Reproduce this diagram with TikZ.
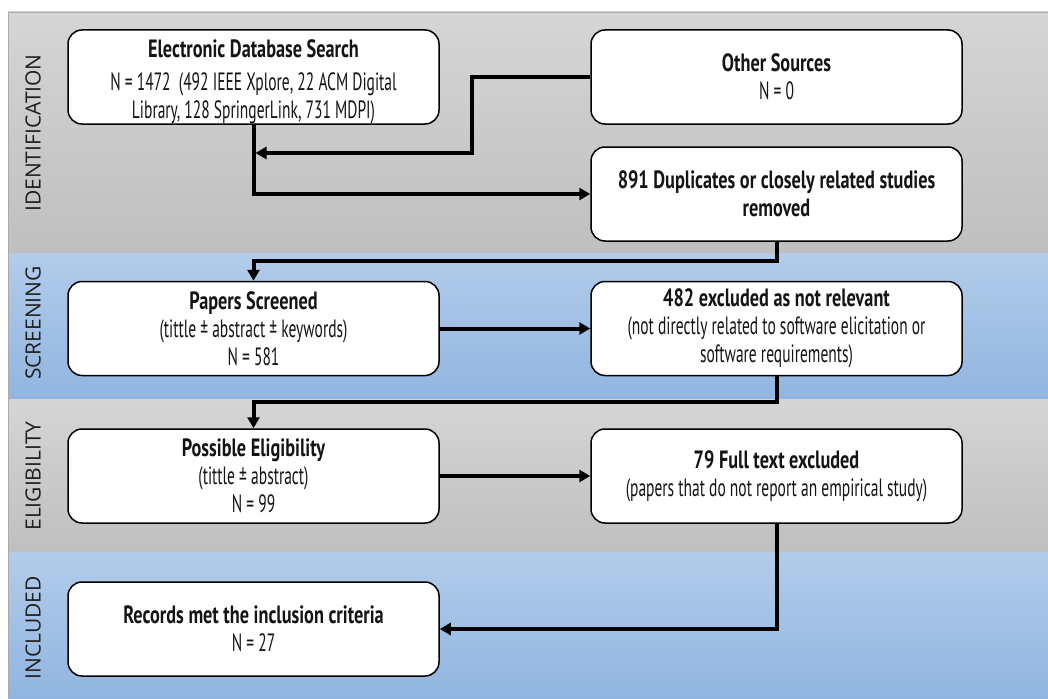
\documentclass[tikz,border=0pt]{standalone}
\usepackage{fontspec}
\setmainfont[FakeStretch=0.62, BoldFeatures={FakeStretch=0.73}]{PT Sans}
\newfontfamily\sidefont{Open Sans}
\usetikzlibrary{arrows.meta}

\definecolor{grayTop}{RGB}{213,213,213}
\definecolor{grayBot}{RGB}{191,191,191}
\definecolor{blueTop}{RGB}{178,204,234}
\definecolor{blueBot}{RGB}{145,181,224}
\definecolor{bandLine}{RGB}{170,170,170}
\definecolor{inkText}{RGB}{20,20,20}

\tikzset{
  graybandfill/.style={top color=grayTop, bottom color=grayBot},
  bluebandfill/.style={top color=blueTop, bottom color=blueBot},
  boxtext/.style={align=center, inner sep=2pt, text=inkText,
    font=\fontsize{25}{28}\selectfont},
  stagebox/.style={boxtext, draw=black, line width=1.5pt, fill=white,
    rounded corners=14pt, minimum width=371pt, minimum height=94pt},
  sidelabel/.style={rotate=90, font=\sidefont\fontsize{21}{24}\selectfont, text=black!88},
  conn/.style={line width=4pt, -{Triangle[length=11pt,width=12pt]}}
}

\begin{document}
\begin{tikzpicture}[x=1pt,y=-1pt]
\useasboundingbox (0,0) rectangle (1048,698);
\fill[white] (0,0) rectangle (1048,698);

% stage bands
\shade[graybandfill] (8,12) rectangle (1048,253);
\shade[bluebandfill] (8,253) rectangle (1048,399);
\shade[graybandfill] (8,399) rectangle (1048,552);
\shade[bluebandfill] (8,552) rectangle (1048,698);
\draw[bandLine, line width=0.8pt] (8,698) -- (8,12) -- (1048,12);

% stage names
\node[sidelabel] (lid)  at (33,133) {IDENTIFICATION};
\node[sidelabel] (lsc)  at (33,323) {SCREENING};
\node[sidelabel] (lel)  at (33,476) {ELIGIBILITY};
\node[sidelabel] (lin)  at (33,628) {INCLUDED};

% boxes
\node[stagebox] (eds) at (253.5,77) {};
\node[boxtext] (edstext) at (253.5,81.5) {\textbf{Electronic Database Search}\\[5pt]N = 1472\ \ (492 IEEE Xplore, 22 ACM Digital\\Library, 128 SpringerLink, 731 MDPI)};
\node[stagebox] (oth) at (776.5,77) {\textbf{Other Sources}\\N = 0};
\node[stagebox] (dup) at (776.5,194) {\textbf{891 Duplicates or closely related studies}\\\textbf{removed}};
\node[stagebox] (ps)  at (253.5,328.5) {\textbf{Papers Screened}\\(tittle ± abstract ± keywords)\\N = 581};
\node[stagebox] (ex1) at (776.5,328.5) {\textbf{482 excluded as not relevant}\\(not directly related to software elicitation or\\software requirements)};
\node[stagebox] (pe)  at (253.5,476) {\textbf{Possible Eligibility}\\(tittle ± abstract)\\N = 99};
\node[stagebox] (ex2) at (776.5,476) {\textbf{79 Full text excluded}\\(papers that do not report an empirical study)};
\node[stagebox] (rec) at (253.5,629) {\textbf{Records met the inclusion criteria}\\N = 27};

% routing points
\coordinate (j1) at (472,153);
\coordinate (s1) at (0,261);
\coordinate (s2) at (0,402);

% connectors
\draw[conn] (eds.south) |- (dup.west);
\draw[conn, shorten >=2pt] (oth.west) -| (j1) -- (eds.south |- j1);
\draw[conn] (dup.south) -- (dup.south |- s1) -- (ps.north |- s1) -- (ps.north);
\draw[conn] (ps.east) -- (ex1.west);
\draw[conn] (ex1.south) -- (ex1.south |- s2) -- (pe.north |- s2) -- (pe.north);
\draw[conn] (pe.east) -- (ex2.west);
\draw[conn] (ex2.south) |- (rec.east);
\end{tikzpicture}
\end{document}
